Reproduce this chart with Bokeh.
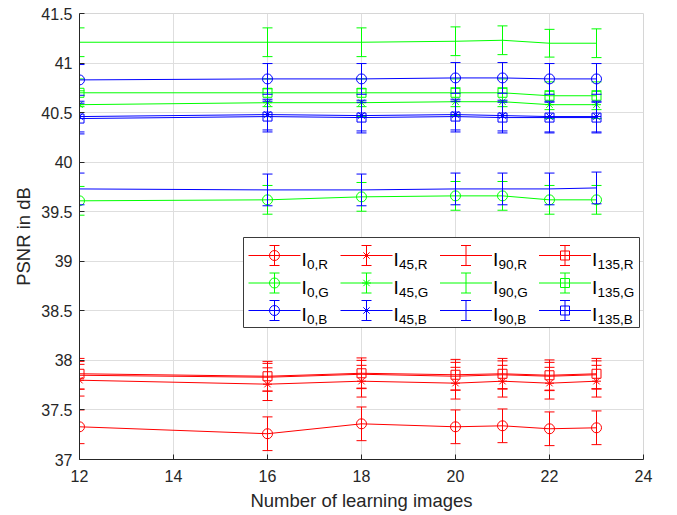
from bokeh.plotting import figure
from bokeh.models import Range1d, FixedTicker
from bokeh.embed import file_html
from bokeh.resources import INLINE
from bokeh.core.properties import value

# ---------------- data ----------------
n_images = [12, 16, 18, 20, 21, 22, 23]

psnr_0_R   = [37.33, 37.26, 37.36, 37.33, 37.34, 37.31, 37.32]
err_0_R    = [0.17, 0.17, 0.17, 0.17, 0.17, 0.17, 0.17]
psnr_45_R  = [37.80, 37.76, 37.79, 37.77, 37.79, 37.77, 37.79]
err_45_R   = [0.16, 0.165, 0.16, 0.16, 0.16, 0.16, 0.16]
psnr_90_R  = [37.85, 37.83, 37.86, 37.84, 37.855, 37.84, 37.855]
err_90_R   = [0.14, 0.14, 0.14, 0.14, 0.14, 0.14, 0.14]
psnr_135_R = [37.865, 37.84, 37.87, 37.855, 37.865, 37.85, 37.865]
err_135_R  = [0.155, 0.15, 0.155, 0.155, 0.155, 0.155, 0.155]

psnr_0_G   = [39.61, 39.62, 39.65, 39.66, 39.66, 39.62, 39.62]
err_0_G    = [0.145, 0.145, 0.145, 0.145, 0.145, 0.145, 0.145]
psnr_45_G  = [40.58, 40.60, 40.60, 40.61, 40.61, 40.58, 40.58]
err_45_G   = [0.14, 0.14, 0.14, 0.14, 0.14, 0.14, 0.14]
psnr_90_G  = [41.21, 41.21, 41.21, 41.22, 41.23, 41.20, 41.20]
err_90_G   = [0.145, 0.145, 0.145, 0.145, 0.145, 0.14, 0.145]
psnr_135_G = [40.70, 40.70, 40.70, 40.70, 40.70, 40.67, 40.67]
err_135_G  = [0.14, 0.14, 0.14, 0.14, 0.14, 0.14, 0.14]

psnr_0_B   = [40.83, 40.84, 40.84, 40.85, 40.85, 40.84, 40.84]
err_0_B    = [0.155, 0.155, 0.155, 0.155, 0.155, 0.155, 0.155]
psnr_45_B  = [40.46, 40.48, 40.47, 40.48, 40.47, 40.46, 40.46]
err_45_B   = [0.155, 0.155, 0.155, 0.155, 0.155, 0.155, 0.155]
psnr_90_B  = [39.73, 39.72, 39.72, 39.73, 39.73, 39.73, 39.74]
err_90_B   = [0.16, 0.16, 0.16, 0.16, 0.16, 0.16, 0.16]
psnr_135_B = [40.44, 40.46, 40.45, 40.46, 40.45, 40.45, 40.45]
err_135_B  = [0.155, 0.155, 0.155, 0.155, 0.155, 0.155, 0.155]

angles = ["0", "45", "90", "135"]
channels = ["R", "G", "B"]
channel_colors = {"R": "#ff0000", "G": "#00ff00", "B": "#0000ff"}
angle_markers = {"0": "circle", "45": "asterisk", "90": None, "135": "square"}

x_ticks = [12, 14, 16, 18, 20, 22, 24]
y_ticks = [37, 37.5, 38, 38.5, 39, 39.5, 40, 40.5, 41, 41.5]
y_tick_labels = ["37", "37.5", "38", "38.5", "39", "39.5", "40", "40.5", "41", "41.5"]

series = {
    ("0", "R"): (psnr_0_R, err_0_R), ("45", "R"): (psnr_45_R, err_45_R),
    ("90", "R"): (psnr_90_R, err_90_R), ("135", "R"): (psnr_135_R, err_135_R),
    ("0", "G"): (psnr_0_G, err_0_G), ("45", "G"): (psnr_45_G, err_45_G),
    ("90", "G"): (psnr_90_G, err_90_G), ("135", "G"): (psnr_135_G, err_135_G),
    ("0", "B"): (psnr_0_B, err_0_B), ("45", "B"): (psnr_45_B, err_45_B),
    ("90", "B"): (psnr_90_B, err_90_B), ("135", "B"): (psnr_135_B, err_135_B),
}

# ---------------- layout ----------------
X_MIN, X_MAX = 12, 24
Y_MIN, Y_MAX = 37, 41.5
W, H = 677, 515
BL, BT, BR, BB = 79, 13, 34, 56
FW, FH = W - BL - BR, H - BT - BB
FONT = "Liberation Sans"
AX = "#262626"

p = figure(width=W, height=H,
           min_border_left=BL, min_border_top=BT, min_border_right=BR, min_border_bottom=BB,
           x_range=Range1d(X_MIN, X_MAX), y_range=Range1d(Y_MIN, Y_MAX),
           output_backend="svg", toolbar_location=None)
p.background_fill_color = "white"
p.border_fill_color = "white"
p.outline_line_color = "#d6d6d6"
p.outline_line_width = 1

for ax in (p.xaxis[0], p.yaxis[0]):
    ax.axis_line_color = AX
    ax.axis_line_width = 1
    ax.major_tick_line_color = AX
    ax.major_tick_in = 5
    ax.major_tick_out = 0
    ax.minor_tick_line_color = None
    ax.major_label_text_font = FONT
    ax.major_label_text_font_size = "16px"
    ax.major_label_text_color = AX
    ax.axis_label_text_font = FONT
    ax.axis_label_text_font_size = "18.5px"
    ax.axis_label_text_font_style = "normal"
    ax.axis_label_text_color = AX

p.xaxis.ticker = FixedTicker(ticks=x_ticks)
p.yaxis.ticker = FixedTicker(ticks=y_ticks)
p.yaxis.major_label_overrides = {t: l for t, l in zip(y_ticks, y_tick_labels)}
p.xaxis.axis_label = "Number of learning images"
p.yaxis.axis_label = "PSNR in dB"
p.xaxis.major_label_standoff = 10
p.yaxis.major_label_standoff = 7
p.xaxis.axis_label_standoff = 5
p.yaxis.axis_label_standoff = 4

p.xgrid.grid_line_color = "#dedede"
p.ygrid.grid_line_color = "#dedede"
p.xgrid.grid_line_width = 1
p.ygrid.grid_line_width = 1

MARKER_SIZE = {"circle": 10, "asterisk": 9, "square": 9}
CAP = 10


def draw_errorbar(xs, ys, es, color, marker):
    lo = [y - e for y, e in zip(ys, es)]
    hi = [y + e for y, e in zip(ys, es)]
    p.line(xs, ys, line_color=color, line_width=1)
    p.segment(x0=xs, y0=lo, x1=xs, y1=hi, line_color=color, line_width=1)
    p.scatter(xs, lo, marker="dash", size=CAP, line_color=color, line_width=1)
    p.scatter(xs, hi, marker="dash", size=CAP, line_color=color, line_width=1)
    if marker:
        p.scatter(xs, ys, marker=marker, size=MARKER_SIZE[marker],
                  line_color=color, fill_color=None, line_width=1)


for ch in channels:
    for ang in angles:
        ys, es = series[(ang, ch)]
        draw_errorbar(n_images, ys, es, channel_colors[ch], angle_markers[ang])

# ---------------- legend (laid out in canvas pixels, mapped to data) ----------------
def px2x(px):
    return X_MIN + (px - BL) / FW * (X_MAX - X_MIN)


def py2y(py):
    return Y_MAX - (py - BT) / FH * (Y_MAX - Y_MIN)


LEG_L, LEG_R, LEG_T, LEG_B = 243, 639, 237, 327
row_y = [255, 282.5, 310]
col_x = [248, 340, 439.5, 538.5]
LINE_LEN = 52

p.quad(left=[px2x(LEG_L)], right=[px2x(LEG_R)], top=[py2y(LEG_T)], bottom=[py2y(LEG_B)],
       fill_color="white", line_color="#3a3a3a", line_width=1)

for r, ch in enumerate(channels):
    color = channel_colors[ch]
    for c, ang in enumerate(angles):
        x0 = col_x[c]
        yc = row_y[r]
        xm = x0 + LINE_LEN / 2
        p.segment(x0=[px2x(x0)], y0=[py2y(yc)], x1=[px2x(x0 + LINE_LEN)], y1=[py2y(yc)],
                  line_color=color, line_width=1)
        p.segment(x0=[px2x(xm)], y0=[py2y(yc - 10)], x1=[px2x(xm)], y1=[py2y(yc + 10)],
                  line_color=color, line_width=1)
        p.scatter([px2x(xm), px2x(xm)], [py2y(yc - 10), py2y(yc + 10)], marker="dash",
                  size=CAP, line_color=color, line_width=1)
        mk = angle_markers[ang]
        if mk:
            p.scatter([px2x(xm)], [py2y(yc)], marker=mk, size=MARKER_SIZE[mk],
                      line_color=color, fill_color=None, line_width=1)
        tx = x0 + LINE_LEN + 1
        p.text(x=[px2x(tx)], y=[py2y(yc + 4)], text=["I"], text_font=value(FONT),
               text_font_size="19px", text_color="black", text_baseline="alphabetic",
               text_align="left")
        p.text(x=[px2x(tx + 5.5)], y=[py2y(yc + 9)], text=[ang + "," + ch], text_font=value(FONT),
               text_font_size="13.5px", text_color="black", text_baseline="alphabetic",
               text_align="left")

html = file_html(p, INLINE)
open("out.html", "w").write(html)
